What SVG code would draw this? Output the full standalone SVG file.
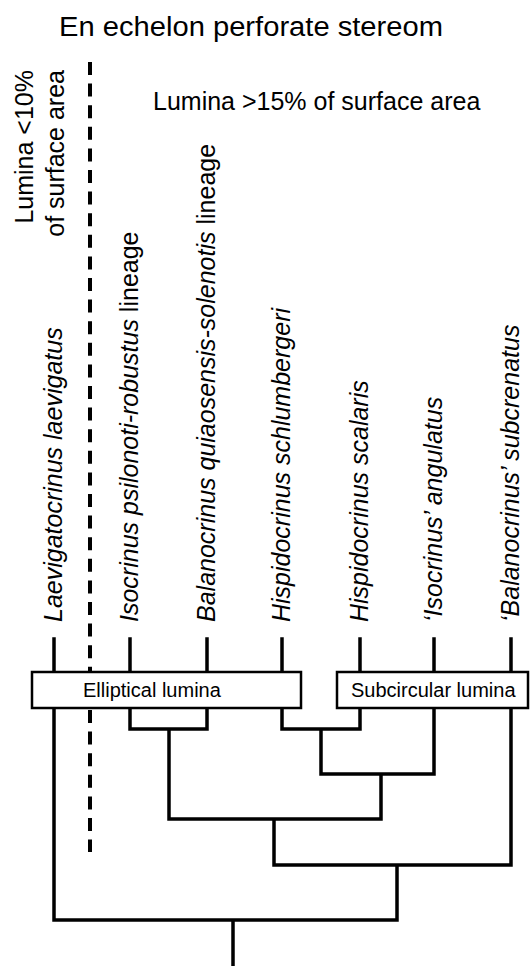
<svg xmlns="http://www.w3.org/2000/svg" width="530" height="966" viewBox="0 0 530 966">
<style>
text{font-family:"Liberation Sans",Arial,sans-serif;fill:#000}
.lab{font-size:25px;font-style:italic}
.n{font-style:normal}
.ann{font-size:25px}
.box{fill:#fff;stroke:#000;stroke-width:2.5}
.br{fill:none;stroke:#000;stroke-width:3.5;stroke-linecap:square}
.boxt{font-size:20px}
</style>
<rect width="530" height="966" fill="#fff"/>
<g id="title"><text x="59" y="36" font-size="27" textLength="384" lengthAdjust="spacingAndGlyphs">En echelon perforate stereom</text></g>
<g id="annot-high"><text class="ann" x="153" y="110">Lumina &gt;15% of surface area</text></g>
<g id="annot-low">
<text class="ann" text-anchor="end" transform="translate(33,70) rotate(-90)">Lumina &lt;10%</text>
<text class="ann" text-anchor="end" transform="translate(64,70) rotate(-90)">of surface area</text>
</g>
<g id="connectors">
<line x1="90" y1="62" x2="90" y2="852" stroke="#000" stroke-width="4" stroke-dasharray="13 8.6"/>
<path class="br" d="M54 639V920M130 639V729H207V639M169 729V819M282 639V729H360V639M321 729V774H434V639M381 774V819M169 819H381M274 819V865H511V639M397 865V920M54 920H397M233 920V966"/>
</g>
<g id="node-elliptical"><rect class="box" x="32" y="672" width="269" height="36"/><text class="boxt" x="83" y="697">Elliptical lumina</text></g>
<g id="node-subcircular"><rect class="box" x="337" y="672" width="191" height="36"/><text class="boxt" x="351" y="697">Subcircular lumina</text></g>
<g id="tip-laevigatocrinus"><text class="lab" transform="translate(62,622) rotate(-90)">Laevigatocrinus laevigatus</text></g>
<g id="tip-isocrinus"><text class="lab" transform="translate(138,622) rotate(-90)">Isocrinus psilonoti-robustus<tspan class="n"> lineage</tspan></text></g>
<g id="tip-balanocrinus"><text class="lab" transform="translate(215,622) rotate(-90)">Balanocrinus quiaosensis-solenotis<tspan class="n"> lineage</tspan></text></g>
<g id="tip-hisp-schlumbergeri"><text class="lab" transform="translate(290,622) rotate(-90)">Hispidocrinus schlumbergeri</text></g>
<g id="tip-hisp-scalaris"><text class="lab" transform="translate(368,622) rotate(-90)">Hispidocrinus scalaris</text></g>
<g id="tip-isocrinus-angulatus"><text class="lab" transform="translate(442,622) rotate(-90)">‘Isocrinus’ angulatus</text></g>
<g id="tip-balanocrinus-subcrenatus"><text class="lab" transform="translate(519,622) rotate(-90)">‘Balanocrinus’ subcrenatus</text></g>
</svg>
